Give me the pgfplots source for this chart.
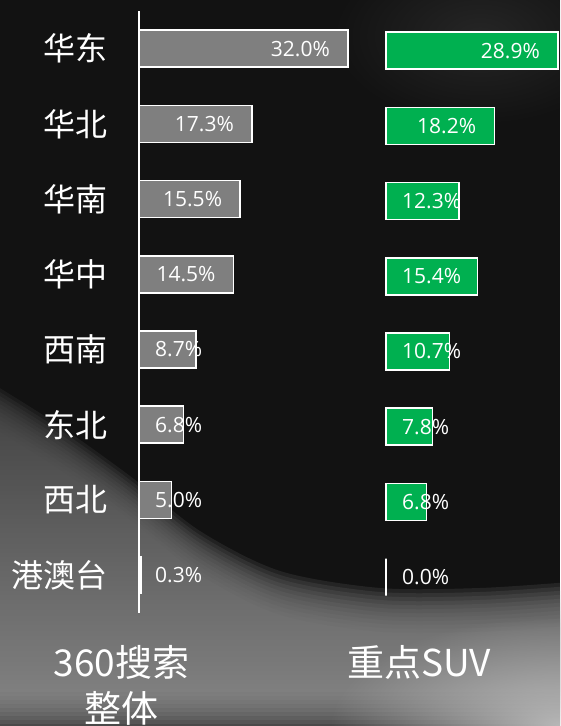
\documentclass[border=0pt]{standalone}
\usepackage{fontspec}
\setmainfont{Noto Sans CJK SC}
\newfontfamily\numfont{Open Sans}
\usepackage{pgfplots}
\pgfplotsset{compat=1.18}
\usetikzlibrary{fadings}
\definecolor{bgtop}{HTML}{121212}
\definecolor{regtop}{HTML}{4A4A4A}
\definecolor{regbot}{HTML}{909090}
\definecolor{brblob}{HTML}{B8B8B8}
\definecolor{trblob}{HTML}{262626}
\definecolor{bargray}{HTML}{7F7F7F}
\definecolor{bargreen}{HTML}{00B050}
\tikzfading[name=softblob, inner color=transparent!0, outer color=transparent!100]

\begin{document}
\begin{tikzpicture}
\useasboundingbox (0pt,0pt) rectangle (560pt,726pt);
\begin{scope}
\clip (0pt,0pt) rectangle (560pt,726pt);
\fill[bgtop] (0pt,0pt) rectangle (560pt,726pt);
\fill[color=trblob, path fading=softblob] (480pt,690pt) ellipse [x radius=150pt, y radius=90pt];
\foreach \k in {0,...,11} {
  \shade[top color=regtop, bottom color=regbot, fill opacity=0.18, yshift=\k*4pt]
    plot[smooth] coordinates {(-10pt,300pt) (60pt,256pt) (130pt,206pt) (200pt,151pt) (280pt,111pt) (380pt,94pt) (480pt,94pt) (570pt,100pt)}
    -- (570pt,-10pt) -- (-10pt,-10pt) -- cycle;
}
\fill[color=brblob, path fading=softblob] (560pt,0pt) ellipse [x radius=230pt, y radius=110pt];
\end{scope}

\begin{axis}[
  at={(139pt,113.3pt)}, anchor=south west,
  scale only axis, width=209pt, height=601.6pt,
  xmin=0, xmax=32, ymin=0.5, ymax=8.5, y dir=reverse,
  enlargelimits=false,
  axis x line=none, axis y line=left,
  y axis line style={-, draw=white, line width=1.5pt},
  ytick={1,...,8},
  yticklabels={华东,华北,华南,华中,西南,东北,西北,港澳台},
  major tick length=0pt,
  yticklabel style={text=white, font=\fontsize{32}{38}\selectfont, inner sep=0pt, xshift=-31.5pt},
  clip=false,
]
\addplot[xbar, bar width=37pt, fill=bargray, draw=white, line width=1.5pt]
  coordinates {(32.0,1) (17.3,2) (15.5,3) (14.5,4) (8.7,5) (6.8,6) (5.0,7) (0.3,8)};
\addplot[draw=none, mark=none, point meta=explicit symbolic,
  nodes near coords={\pgfplotspointmeta\%},
  nodes near coords style={anchor=east, inner sep=0pt, xshift=-18pt, text=white, font=\numfont\fontsize{21}{25}\selectfont}]
  table[meta=v] {
x y v
32.0 1 32.0
17.3 2 17.3
15.5 3 15.5
14.5 4 14.5
};
\addplot[draw=none, mark=none, point meta=explicit symbolic,
  nodes near coords={\pgfplotspointmeta\%},
  nodes near coords style={anchor=west, inner sep=0pt, xshift=16pt, text=white, font=\numfont\fontsize{21}{25}\selectfont}]
  table[meta=v] {
x y v
0 5 8.7
0 6 6.8
0 7 5.0
0 8 0.3
};
\end{axis}

\begin{axis}[
  at={(386pt,111.3pt)}, anchor=south west,
  scale only axis, width=172pt, height=601.6pt,
  xmin=0, xmax=28.9, ymin=0.5, ymax=8.5, y dir=reverse,
  enlargelimits=false,
  hide axis,
  clip=false,
]
\addplot[xbar, bar width=37pt, fill=bargreen, draw=white, line width=1.5pt]
  coordinates {(28.9,1) (18.2,2) (12.3,3) (15.4,4) (10.7,5) (7.8,6) (6.8,7) (0.0,8)};
\addplot[draw=none, mark=none, point meta=explicit symbolic,
  nodes near coords={\pgfplotspointmeta\%},
  nodes near coords style={anchor=east, inner sep=0pt, xshift=-18pt, text=white, font=\numfont\fontsize{21}{25}\selectfont}]
  table[meta=v] {
x y v
28.9 1 28.9
18.2 2 18.2
};
\addplot[draw=none, mark=none, point meta=explicit symbolic,
  nodes near coords={\pgfplotspointmeta\%},
  nodes near coords style={anchor=west, inner sep=0pt, xshift=16pt, text=white, font=\numfont\fontsize{21}{25}\selectfont}]
  table[meta=v] {
x y v
0 3 12.3
0 4 15.4
0 5 10.7
0 6 7.8
0 7 6.8
0 8 0.0
};
\end{axis}

\node[text=white, align=center, inner sep=0pt, font=\fontsize{37}{46}\selectfont] at (121.5pt,41pt) {360搜索\\整体};
\node[text=white, inner sep=0pt, font=\fontsize{37}{46}\selectfont] at (419pt,64pt) {重点SUV};
\end{tikzpicture}
\end{document}
